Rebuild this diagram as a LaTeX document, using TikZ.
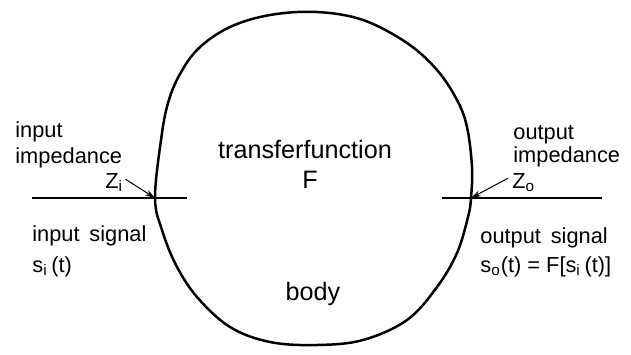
\documentclass[tikz,border=0pt]{standalone}
\usepackage{fontspec}
\setmainfont{Liberation Sans}
\usetikzlibrary{arrows.meta}

\begin{document}
\begin{tikzpicture}[x=0.5pt, y=-0.5pt,
    lbl/.style={anchor=base west, inner sep=0pt, font=\fontsize{10.9}{12}\selectfont},
    mid/.style={anchor=base, inner sep=0pt, font=\fontsize{12.6}{14}\selectfont},
    pin/.style={-{Stealth[length=5pt,width=3pt]}, line width=0.5pt},
    wire/.style={line width=1pt}]
    \useasboundingbox (0,0) rectangle (631,354);

    % body outline
    \draw[line width=1.25pt] plot[smooth cycle, tension=0.6] coordinates {
        (155,198) (161,140) (168,103) (180,74) (199,48) (230,27) (270,15)
        (317,12) (363,20) (407,43) (437,70) (457,100) (467,127) (472,167)
        (471,198) (468,217) (457,253) (437,287) (407,320) (363,340)
        (317,345) (270,342) (230,327) (197,297) (176,265) (162,230)};

    \coordinate (in) at (155,198);
    \coordinate (out) at (471,198);
    \coordinate (inleft) at (32,198);
    \coordinate (inright) at (187,198);
    \coordinate (outleft) at (442,198);
    \coordinate (outright) at (602,198);

    % in and out wires
    \draw[wire] (inleft) -- (inright);
    \draw[wire] (outleft) -- (outright);

    \node[mid] (tf) at (305,158) {transferfunction};
    \node[mid] (F) at (310,188) {F};
    \node[mid] (body) at (313,300) {body};

    \node[lbl] (inimp1) at (15,137) {input};
    \node[lbl] (inimp2) at (15,163) {impedance};
    \node[lbl] (zi) at (105,188) {Z\textsubscript{i}};
    \node[lbl] (insig) at (32,241) {input\hspace{0.45em}signal};
    \node[lbl] (sin) at (32,272) {s\textsubscript{i}\,(t)};

    \node[lbl] (outimp1) at (513,139) {output};
    \node[lbl] (outimp2) at (513,162) {impedance};
    \node[lbl] (zo) at (512,188) {Z\textsubscript{o}};
    \node[lbl] (outsig) at (480,243) {output\hspace{0.45em}signal};
    \node[lbl] (sout) at (480,272) {s\textsubscript{o}(t) = F[s\textsubscript{i}\,(t)]};

    \draw[pin] (zi.east) ++(2,-3) -- (in);
    \draw[pin] (zo.west) ++(-4,-4) -- (out);
\end{tikzpicture}
\end{document}
